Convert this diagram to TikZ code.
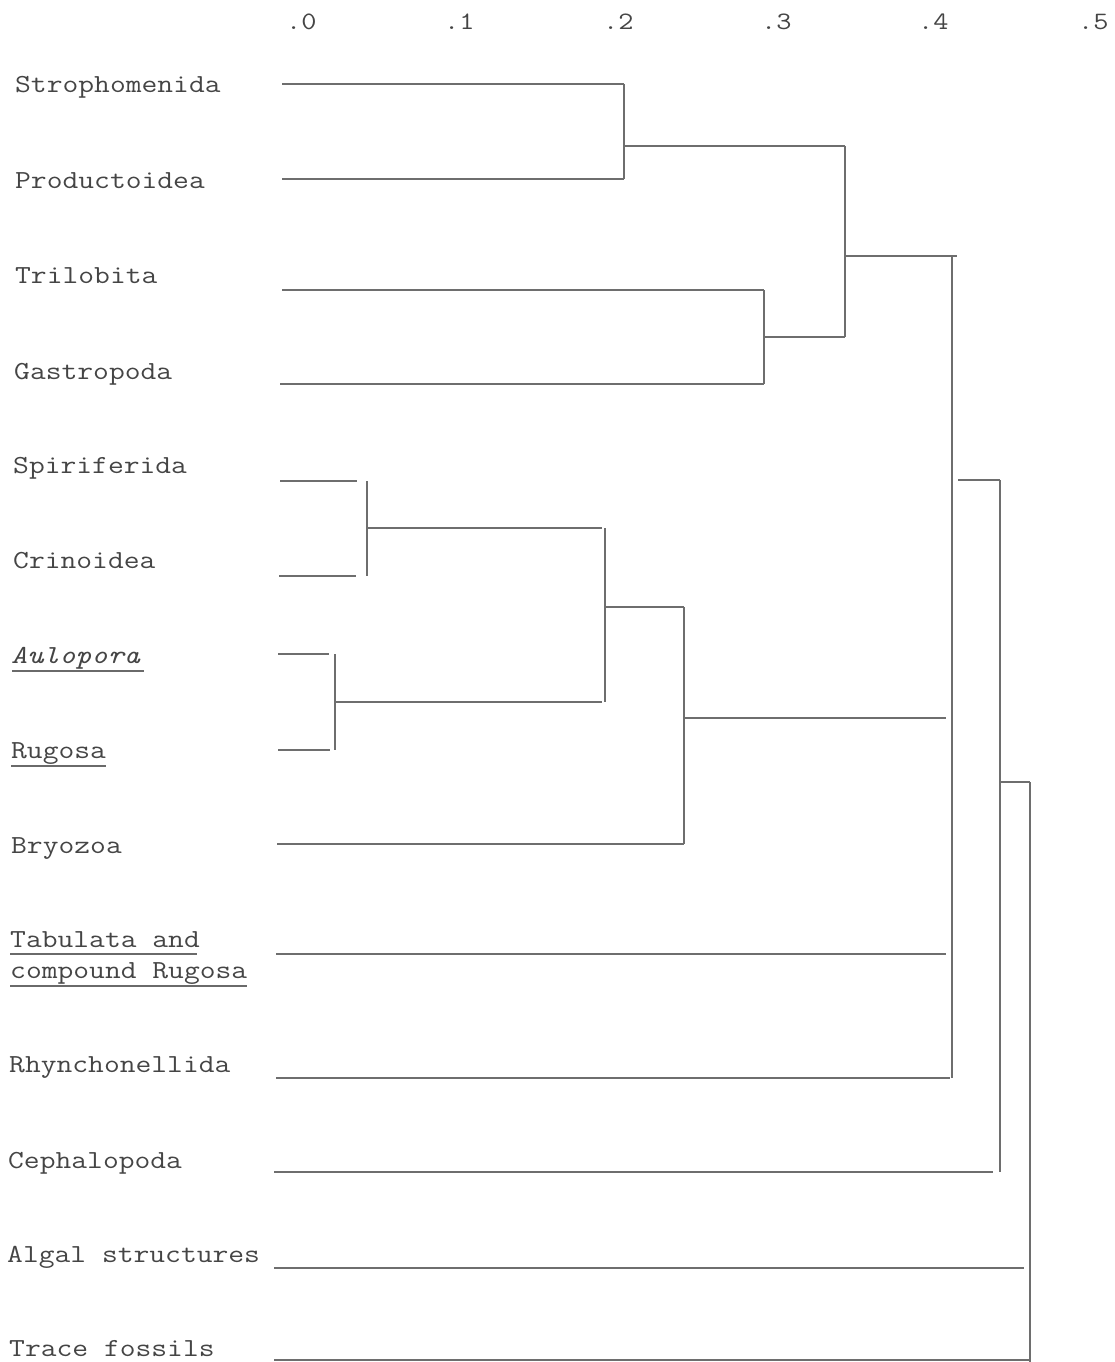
\documentclass[tikz,border=0pt]{standalone}
\usepackage{fontspec}
\setmonofont{Latin Modern Mono}[FakeStretch=1.18]
\definecolor{txtgray}{HTML}{454545}
\definecolor{linegray}{HTML}{6E6E6E}
\tikzset{
  lbl/.style={anchor=base west, inner sep=0pt, font=\ttfamily\fontsize{26}{30}\selectfont, text=txtgray},
  ticklbl/.style={anchor=base west, inner sep=0pt, font=\ttfamily\fontsize{25}{30}\selectfont, text=txtgray},
  br/.style={draw=linegray, line width=1.7pt},
  uline/.style={draw=txtgray!80, line width=1.6pt},
}
\begin{document}
\begin{tikzpicture}[x=1pt, y=-1pt]
\useasboundingbox (0,0) rectangle (1114,1362);
% scale
\node[ticklbl] (t0) at (286,30) {.0};
\node[ticklbl] (t1) at (444,30) {.1};
\node[ticklbl] (t2) at (603,30) {.2};
\node[ticklbl] (t3) at (761,30) {.3};
\node[ticklbl] (t4) at (918,30) {.4};
\node[ticklbl] (t5) at (1078,30) {.5};
% labels
\node[lbl] (n1) at (15,93) {Strophomenida};
\node[lbl] (n2) at (15,188) {Productoidea};
\node[lbl] (n3) at (15,283) {Trilobita};
\node[lbl] (n4) at (14,379) {Gastropoda};
\node[lbl] (n5) at (13,473) {Spiriferida};
\node[lbl] (n6) at (13,568) {Crinoidea};
\node[lbl] (n7) at (11,663) {\itshape Aulopora};
\node[lbl] (n8) at (11,758) {Rugosa};
\node[lbl] (n9) at (11,853) {Bryozoa};
\node[lbl] (n10) at (10,947) {Tabulata and};
\node[lbl] (n10b) at (10,978) {compound Rugosa};
\node[lbl] (n11) at (9,1072) {Rhynchonellida};
\node[lbl] (n12) at (8,1168) {Cephalopoda};
\node[lbl] (n13) at (7,1262) {Algal structures};
\node[lbl] (n14) at (9,1356) {Trace fossils};
% underlines
\draw[uline] ([shift={(1,8)}]n7.base west) -- ([shift={(4,8)}]n7.base east);
\draw[uline] ([shift={(0,8)}]n8.base west) -- ([shift={(0,8)}]n8.base east);
\draw[uline] ([shift={(0,7)}]n10.base west) -- ([shift={(-3,7)}]n10.base east);
\draw[uline] ([shift={(0,8)}]n10b.base west) -- ([shift={(0,8)}]n10b.base east);
% leaf coordinates (start, end)
\coordinate (s1) at (282,84);   \coordinate (e1) at (624,84);
\coordinate (s2) at (282,179);  \coordinate (e2) at (624,179);
\coordinate (s3) at (282,290);  \coordinate (e3) at (764,290);
\coordinate (s4) at (280,384);  \coordinate (e4) at (764,384);
\coordinate (s5) at (280,481);  \coordinate (e5) at (357,481);
\coordinate (s6) at (279,576);  \coordinate (e6) at (356,576);
\coordinate (s7) at (278,654);  \coordinate (e7) at (329,654);
\coordinate (s8) at (278,750);  \coordinate (e8) at (330,750);
\coordinate (s9) at (277,844);  \coordinate (e9) at (684,844);
\coordinate (s10) at (276,954); \coordinate (e10) at (946,954);
\coordinate (s11) at (276,1078);\coordinate (e11) at (950,1078);
\coordinate (s12) at (274,1172);\coordinate (e12) at (993,1172);
\coordinate (s13) at (274,1268);\coordinate (e13) at (1024,1268);
\coordinate (s14) at (274,1360);\coordinate (e14) at (1030,1360);
\foreach \i in {1,...,14} { \draw[br] (s\i) -- (e\i); }
% verticals (top/bottom) and joins
\coordinate (v1t) at (624,84);   \coordinate (v1b) at (624,179);  \coordinate (j1) at (624,146);  \coordinate (j1e) at (845,146);
\coordinate (v2t) at (764,290);  \coordinate (v2b) at (764,384);  \coordinate (j2) at (764,337);  \coordinate (j2e) at (845,337);
\coordinate (v3t) at (845,146);  \coordinate (v3b) at (845,337);  \coordinate (j3) at (845,256);  \coordinate (j3e) at (957,256);
\coordinate (v4t) at (367,481);  \coordinate (v4b) at (367,576);  \coordinate (j4) at (367,528);  \coordinate (j4e) at (602,528);
\coordinate (v5t) at (335,654);  \coordinate (v5b) at (335,750);  \coordinate (j5) at (335,702);  \coordinate (j5e) at (602,702);
\coordinate (v6t) at (605,528);  \coordinate (v6b) at (605,702);  \coordinate (j6) at (605,607);  \coordinate (j6e) at (684,607);
\coordinate (v7t) at (684,607);  \coordinate (v7b) at (684,844);  \coordinate (j7) at (684,718);  \coordinate (j7e) at (946,718);
\coordinate (v8t) at (952,256);  \coordinate (v8b) at (952,1078); \coordinate (j8) at (958,480);  \coordinate (j8e) at (1000,480);
\coordinate (v9t) at (1000,480); \coordinate (v9b) at (1000,1172);\coordinate (j9) at (1000,782); \coordinate (j9e) at (1030,782);
\coordinate (v10t) at (1030,782);\coordinate (v10b) at (1030,1362);
\foreach \i in {1,...,10} { \draw[br] (v\i t) -- (v\i b); }
\foreach \i in {1,...,9} { \draw[br] (j\i) -- (j\i e); }
\end{tikzpicture}
\end{document}
